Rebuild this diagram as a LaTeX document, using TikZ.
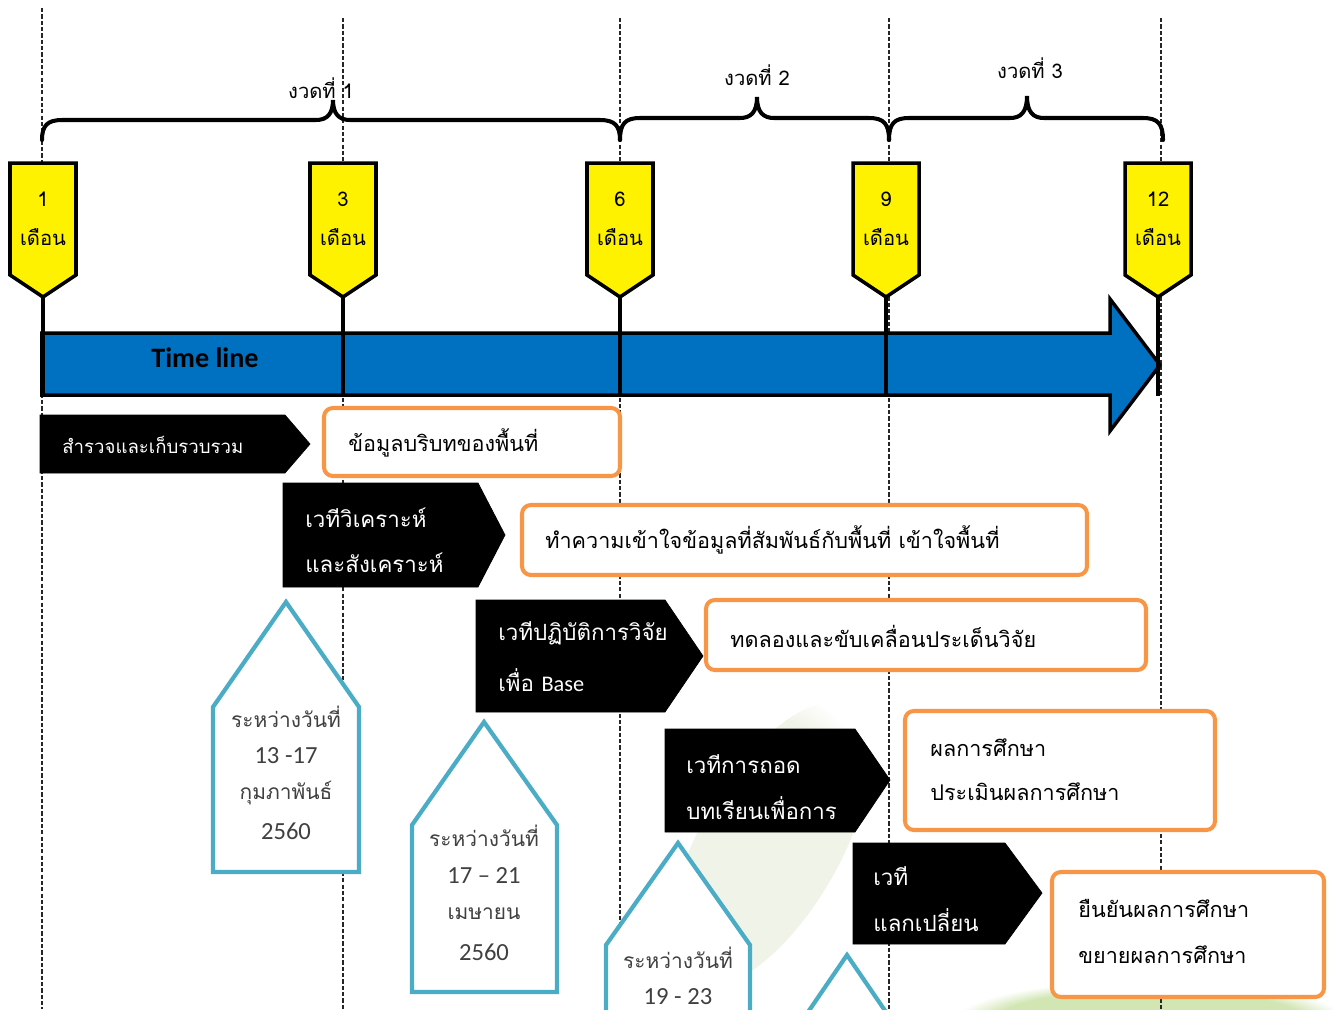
\documentclass[tikz,border=0pt]{standalone}
\usepackage{fontspec}
\usetikzlibrary{fadings}
\setmainfont{Carlito}
\newfontfamily\thai[Script=Thai]{Loma}
\definecolor{tlblue}{HTML}{0070C0}
\definecolor{orng}{HTML}{F79646}
\definecolor{teal}{HTML}{4BACC6}
\definecolor{dgray}{HTML}{404040}
\definecolor{leafpale}{HTML}{F0F4E8}
\definecolor{leafgreen}{HTML}{D2E6B4}
\begin{document}
\begin{tikzpicture}[x=0.02cm,y=-0.02cm,
  vdash/.style={draw=black!85,line width=0.6pt,dash pattern=on 2.4pt off 1.2pt},
  bracepath/.style={draw=black,line width=2.3pt,line cap=round},
  marker/.style={fill=yellow,draw=black,line width=2pt,line join=miter},
  stem/.style={draw=black,line width=2.8pt},
  blkbox/.style={fill=black,draw=black},
  orbox/.style={fill=white,draw=orng,line width=2.3pt,rounded corners=5pt},
  house/.style={fill=white,draw=teal,line width=2.4pt,line join=miter},
  small/.style={font=\thai\fontsize{11.5}{13}\selectfont,inner sep=0pt},
  wtxt/.style={font=\thai\fontsize{12.7}{14}\selectfont,text=white,anchor=west,inner sep=0pt},
  otxt/.style={font=\thai\fontsize{12.3}{14}\selectfont,text=black,anchor=west,inner sep=0pt},
  htxt/.style={font=\thai\fontsize{11.9}{14}\selectfont,text=dgray,inner sep=0pt},
  hnum/.style={font=\fontsize{14}{16}\selectfont,text=dgray,inner sep=0pt}
]
\useasboundingbox (0,0) rectangle (1333,1009);

% faint background leaves
\begin{scope}
\clip (0,0) rectangle (1333,1009);
\fill[leafpale,path fading=circle with fuzzy edge 20 percent,rotate around={-30:(770,845)}] (770,845) ellipse (70 and 160);
\fill[leafgreen,path fading=circle with fuzzy edge 20 percent] (1150,1025) ellipse (200 and 45);
\end{scope}

% dashed guide lines
\draw[vdash] (42,8) -- (42,1009);
\foreach \x in {343,620,889,1161} \draw[vdash] (\x,18) -- (\x,1009);

% braces
\draw[bracepath] (42,140) .. controls (42,126) and (47,120) .. (62,120) -- (316,120)
  .. controls (327,120) and (333,114) .. (333,100) .. controls (333,114) and (339,120) .. (350,120)
  -- (600,120) .. controls (615,120) and (620,126) .. (620,140);
\draw[bracepath] (620,140) .. controls (620,124) and (625,118) .. (640,118) -- (740,118)
  .. controls (751,118) and (757,112) .. (757,97) .. controls (757,112) and (763,118) .. (774,118)
  -- (869,118) .. controls (884,118) and (889,124) .. (889,140);
\draw[bracepath] (889,140) .. controls (889,124) and (894,118) .. (909,118) -- (1010,118)
  .. controls (1021,118) and (1027,112) .. (1027,96) .. controls (1027,112) and (1033,118) .. (1044,118)
  -- (1143,118) .. controls (1158,118) and (1163,124) .. (1163,140);
\node[small] (p1) at (321,88) {งวดที่ 1};
\node[small] (p2) at (757,75) {งวดที่ 2};
\node[small] (p3) at (1030,68) {งวดที่ 3};

% timeline bar
\draw[fill=tlblue,draw=black,line width=2pt,line join=miter]
  (42,333) -- (1110,333) -- (1110,299) -- (1160,365) -- (1110,431) -- (1110,395) -- (42,395) -- cycle;
\node[font=\bfseries\fontsize{16}{18}\selectfont,inner sep=0pt] (tl) at (205,358) {Time line};

% markers
\foreach \c/\m/\n in {43/1/m1,343/3/m3,620/6/m6,886/9/m9,1158/12/m12}{
  \draw[marker] (\c-33,163) -- (\c+33,163) -- (\c+33,275) -- (\c,297) -- (\c-33,275) -- cycle;
  \coordinate (\n tip) at (\c,297);
  \coordinate (\n foot) at (\c,396);
  \draw[stem] (\n tip) -- (\n foot);
  \node[small] (\n num) at (\c,199) {\m};
  \node[small] (\n lab) at (\c,237) {เดือน};
}

% black step boxes
\draw[blkbox] (40,415) -- (285,415) -- (310,444) -- (285,473) -- (40,473) -- cycle;
\node[wtxt,font=\thai\fontsize{10.6}{12}\selectfont] (s1) at (62,445) {สำรวจและเก็บรวบรวม};

\draw[blkbox] (283,483) -- (478,483) -- (505,535) -- (478,587) -- (283,587) -- cycle;
\node[wtxt] (s2a) at (305,518) {เวทีวิเคราะห์};
\node[wtxt] (s2b) at (305,563) {และสังเคราะห์};

\draw[blkbox] (476,600) -- (665,600) -- (703,656) -- (665,712) -- (476,712) -- cycle;
\node[wtxt] (s3a) at (498,633) {เวทีปฏิบัติการวิจัย};
\node[wtxt] (s3b) at (498,680) {เพื่อ {\fontspec{Carlito}Base}};

\draw[blkbox] (665,729) -- (855,729) -- (890,780) -- (855,832) -- (665,832) -- cycle;
\node[wtxt] (s4a) at (686,764) {เวทีการถอด};
\node[wtxt] (s4b) at (686,808) {บทเรียนเพื่อการ};

\draw[blkbox] (853,843) -- (1005,843) -- (1042,893) -- (1005,944) -- (853,944) -- cycle;
\node[wtxt] (s5a) at (873,876) {เวที};
\node[wtxt] (s5b) at (873,920) {แลกเปลี่ยน};

% orange result boxes
\draw[orbox] (324,408) rectangle (620,476);
\node[otxt] (r1) at (348,443) {ข้อมูลบริบทของพื้นที่};
\draw[orbox] (522,505) rectangle (1087,575);
\node[otxt] (r2) at (545,540) {ทำความเข้าใจข้อมูลที่สัมพันธ์กับพื้นที่ เข้าใจพื้นที่};
\draw[orbox] (706,600) rectangle (1146,670);
\node[otxt] (r3) at (730,636) {ทดลองและขับเคลื่อนประเด็นวิจัย};
\draw[orbox] (905,711) rectangle (1215,830);
\node[otxt] (r4a) at (930,748) {ผลการศึกษา};
\node[otxt] (r4b) at (930,792) {ประเมินผลการศึกษา};
\draw[orbox] (1052,872) rectangle (1324,997);
\node[otxt] (r5a) at (1078,908) {ยืนยันผลการศึกษา};
\node[otxt] (r5b) at (1078,955) {ขยายผลการศึกษา};

% date houses
\draw[house] (286,602) -- (359,707) -- (359,872) -- (213,872) -- (213,707) -- cycle;
\node[htxt] (h1a) at (286,717) {ระหว่างวันที่};
\node[hnum] (h1b) at (286,756) {13 -17};
\node[htxt] (h1c) at (286,793) {กุมภาพันธ์};
\node[hnum] (h1d) at (286,831) {2560};

\draw[house] (484,722) -- (557,825) -- (557,992) -- (412,992) -- (412,825) -- cycle;
\node[htxt] (h2a) at (484,836) {ระหว่างวันที่};
\node[hnum] (h2b) at (484,876) {17 – 21};
\node[htxt] (h2c) at (484,914) {เมษายน};
\node[hnum] (h2d) at (484,952) {2560};

\draw[house] (606,1015) -- (606,945) -- (678,843) -- (750,945) -- (750,1015);
\node[htxt] (h3a) at (678,958) {ระหว่างวันที่};
\node[hnum] (h3b) at (678,997) {19 - 23};

\draw[house] (806,1015) -- (847,955) -- (888,1015);
\end{tikzpicture}
\end{document}
